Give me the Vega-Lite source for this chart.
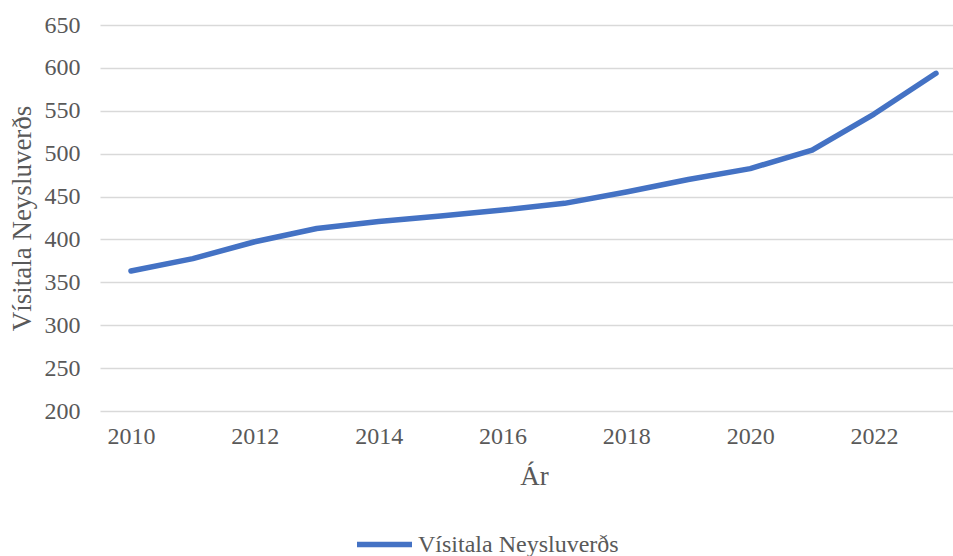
{
  "$schema": "https://vega.github.io/schema/vega-lite/v6.json",
  "autosize": "none",
  "width": 853,
  "height": 386,
  "padding": {"left": 100, "top": 25, "right": 0, "bottom": 145},
  "background": "white",
  "config": {
    "view": {"stroke": null},
    "font": "Liberation Serif",
    "axis": {"labelFont": "Liberation Serif", "titleFont": "Liberation Serif", "labelColor": "#595959", "titleColor": "#595959", "titleFontWeight": "normal"},
    "legend": {"labelFont": "Liberation Serif", "labelColor": "#595959"}
  },
  "data": {
    "values": [
      {"Year": 2010, "Value": 363.2, "Series": "Vísitala Neysluverðs"},
      {"Year": 2011, "Value": 377.7, "Series": "Vísitala Neysluverðs"},
      {"Year": 2012, "Value": 397.3, "Series": "Vísitala Neysluverðs"},
      {"Year": 2013, "Value": 412.7, "Series": "Vísitala Neysluverðs"},
      {"Year": 2014, "Value": 420.9, "Series": "Vísitala Neysluverðs"},
      {"Year": 2015, "Value": 427.3, "Series": "Vísitala Neysluverðs"},
      {"Year": 2016, "Value": 434.3, "Series": "Vísitala Neysluverðs"},
      {"Year": 2017, "Value": 442.1, "Series": "Vísitala Neysluverðs"},
      {"Year": 2018, "Value": 455.4, "Series": "Vísitala Neysluverðs"},
      {"Year": 2019, "Value": 469.9, "Series": "Vísitala Neysluverðs"},
      {"Year": 2020, "Value": 482.6, "Series": "Vísitala Neysluverðs"},
      {"Year": 2021, "Value": 504.1, "Series": "Vísitala Neysluverðs"},
      {"Year": 2022, "Value": 546.2, "Series": "Vísitala Neysluverðs"},
      {"Year": 2023, "Value": 593.7, "Series": "Vísitala Neysluverðs"}
    ]
  },
  "mark": {"type": "line", "strokeWidth": 5.5, "strokeCap": "round", "strokeJoin": "round"},
  "encoding": {
    "x": {
      "field": "Year", "type": "quantitative",
      "scale": {"domain": [2009.5, 2023.275], "nice": false, "zero": false},
      "axis": {
        "title": "Ár", "values": [2010, 2012, 2014, 2016, 2018, 2020, 2022], "format": "d",
        "grid": false, "domain": false, "ticks": false,
        "labelFontSize": 24, "labelPadding": 13,
        "titleFontSize": 27, "titleX": 434, "titleY": 73, "titleBaseline": "alphabetic", "titleAlign": "center"
      }
    },
    "y": {
      "field": "Value", "type": "quantitative",
      "scale": {"domain": [200, 650], "nice": false, "zero": false},
      "axis": {
        "title": "Vísitala Neysluverðs", "values": [200, 250, 300, 350, 400, 450, 500, 550, 600, 650],
        "grid": true, "gridColor": "#D9D9D9", "gridWidth": 1.3,
        "domain": false, "ticks": false,
        "labelFontSize": 24, "labelPadding": 20,
        "titleFontSize": 27, "titleX": -78, "titleY": 193, "titleBaseline": "middle", "titleAlign": "center", "titleAngle": 270
      }
    },
    "color": {
      "field": "Series", "type": "nominal",
      "scale": {"range": ["#4472C4"]},
      "legend": {
        "title": null, "orient": "none", "legendX": 254, "legendY": 489,
        "symbolType": "stroke", "symbolSize": 3025, "symbolStrokeWidth": 5.5,
        "labelFontSize": 24, "labelOffset": 3, "labelLimit": 400
      }
    }
  }
}
